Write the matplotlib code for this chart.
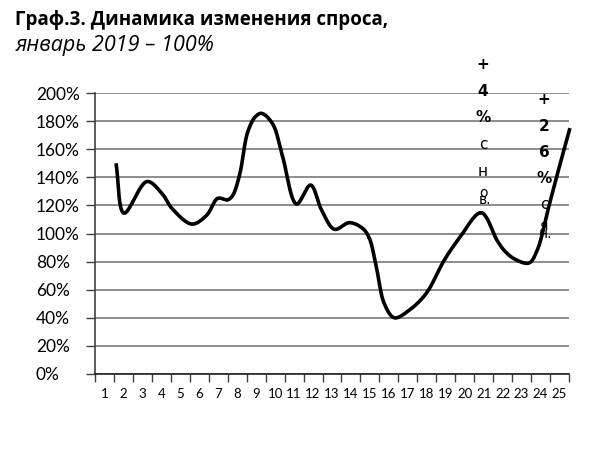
import numpy as np
import matplotlib.pyplot as plt

# ---------------------------------- data -------------------------------------
categories = [str(i) for i in range(1, 26)]

# curve: position in category units, value (share of Jan 2019)
pos = [1.61, 2.03, 3.24, 4.03, 4.55, 5.61, 6.39, 6.97, 7.50, 7.76, 8.13, 8.55,
       8.95, 9.29, 9.87, 10.39, 11.13, 11.87, 12.45, 13.13, 13.92, 14.61, 14.97,
       15.34, 15.76, 16.29, 17.08, 17.97, 18.92, 19.71, 20.87, 21.71, 22.08,
       22.61, 23.39, 23.82, 24.45, 25.08, 25.55]
vals = [1.50, 1.145, 1.37, 1.285, 1.18, 1.067, 1.13, 1.25, 1.24, 1.27, 1.42, 1.72,
        1.83, 1.855, 1.78, 1.55, 1.21, 1.345, 1.167, 1.03, 1.077, 1.037, 0.966,
        0.76, 0.50, 0.40, 0.455, 0.574, 0.81, 0.966, 1.148, 0.95, 0.88,
        0.82, 0.79, 0.88, 1.20, 1.52, 1.75]

yticks = np.arange(0, 2.01, 0.2)
ylabels = ['{}%'.format(int(round(v * 100))) for v in yticks]

title1 = 'Граф.3. Динамика изменения спроса,'
title2 = 'январь 2019 – 100%'
note1 = ['+', '4', '%', 'с', 'н']
note1_end = 'о\nв.'
note2 = ['+', '2', '6', '%', 'с']
note2_end = 'я\nн.'


# -------------------------------- smoothing ----------------------------------
# centripetal catmull-rom in screen-ish units (like excel "smoothed line")
def smooth(x, y, n=30, sx=19.0, sy=140.0):
    P = np.column_stack([np.asarray(x, float) * sx, np.asarray(y, float) * sy])
    P = np.vstack([2 * P[0] - P[1], P, 2 * P[-1] - P[-2]])
    out = []
    for i in range(1, len(P) - 2):
        p0, p1, p2, p3 = P[i - 1], P[i], P[i + 1], P[i + 2]
        t0 = 0.0
        t1 = t0 + np.linalg.norm(p1 - p0) ** 0.5
        t2 = t1 + np.linalg.norm(p2 - p1) ** 0.5
        t3 = t2 + np.linalg.norm(p3 - p2) ** 0.5
        t = np.linspace(t1, t2, n)[:, None]
        a1 = (t1 - t) / (t1 - t0) * p0 + (t - t0) / (t1 - t0) * p1
        a2 = (t2 - t) / (t2 - t1) * p1 + (t - t1) / (t2 - t1) * p2
        a3 = (t3 - t) / (t3 - t2) * p2 + (t - t2) / (t3 - t2) * p3
        b1 = (t2 - t) / (t2 - t0) * a1 + (t - t0) / (t2 - t0) * a2
        b2 = (t3 - t) / (t3 - t1) * a2 + (t - t1) / (t3 - t1) * a3
        c = (t2 - t) / (t2 - t1) * b1 + (t - t1) / (t2 - t1) * b2
        out.append(c)
    C = np.vstack(out)
    return C[:, 0] / sx, C[:, 1] / sy


xs, ys = smooth(pos, vals)

# -------------------------------- plotting -----------------------------------
fig = plt.figure(figsize=(6, 4.55), dpi=100)
ax = fig.add_axes([95 / 600, 1 - 374 / 455, 474 / 600, 281 / 455])

ax.plot(xs, ys, color='black', lw=2.6, clip_on=False, solid_capstyle='butt', zorder=3)

ax.set_xlim(0.5, 25.5)
ax.set_ylim(0, 2.0)
ax.set_yticks(yticks)
ax.set_yticklabels(ylabels, family=['Lato', 'DejaVu Sans'], fontsize=12.5, ha='left')
ax.tick_params(axis='y', length=6.5, width=1, color='#404040', pad=36)

ax.set_xticks(range(1, 26))
ax.set_xticklabels(categories, family=['Lato', 'DejaVu Sans'], fontsize=9.5)
ax.set_xticks(np.arange(0.5, 25.6, 1), minor=True)
ax.tick_params(axis='x', which='major', length=0, pad=10)
ax.tick_params(axis='x', which='minor', length=5.5, width=1, color='#404040')

ax.yaxis.grid(True, color='#7a7a7a', lw=1.2)
ax.set_axisbelow(True)
for s in ['top', 'right']:
    ax.spines[s].set_visible(False)
ax.spines['left'].set_color('#404040')
ax.spines['bottom'].set_color('#202020')
ax.spines['left'].set_linewidth(1.2)
ax.spines['bottom'].set_linewidth(1.2)

fig.text(15 / 600, 1 - 20 / 455, title1, fontsize=13.5, fontweight='bold',
         family=['Open Sans', 'DejaVu Sans'], va='center', ha='left')
fig.text(15 / 600, 1 - 46 / 455, title2, fontsize=15.5, style='italic',
         family=['Open Sans', 'DejaVu Sans'], va='center', ha='left')


def stack(chars, end, xp, y0, step):
    for k, c in enumerate(chars):
        bold = c in '+%0123456789'
        fig.text(xp / 600, 1 - (y0 + k * step) / 455, c, fontsize=11,
                 fontweight='bold' if bold else 'normal',
                 family=['DejaVu Sans'], ha='center', va='center')
    yb = y0 + len(chars) * step
    fig.text((xp + 2) / 600, 1 - (yb - 1) / 455, end, fontsize=10, linespacing=0.45,
             family=['DejaVu Sans'], ha='center', va='center', multialignment='left')


stack(note1, note1_end, 483, 65, 26.5)
stack(note2, note2_end, 544, 100, 26.2)

fig.savefig('out.png', dpi=100)
